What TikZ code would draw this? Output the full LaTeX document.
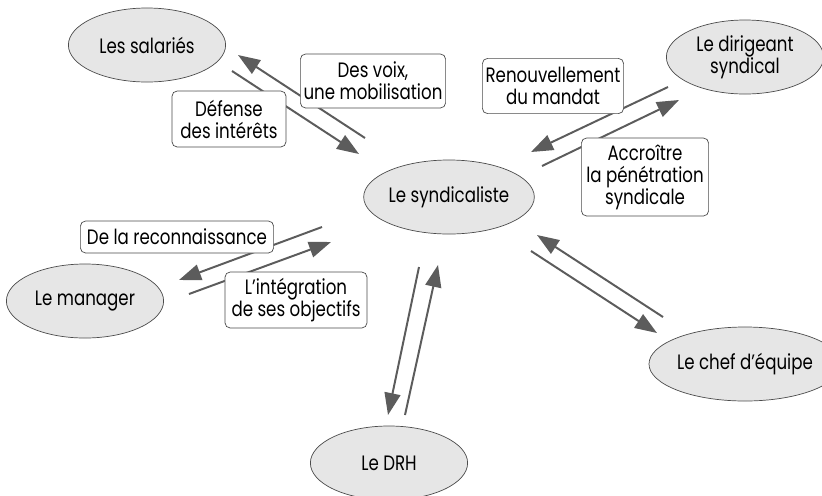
\documentclass[tikz,border=0pt]{standalone}
\usepackage{fontspec}
\setmainfont[FakeStretch=0.8]{Poppins}
\usetikzlibrary{shapes.geometric,arrows.meta}

\definecolor{fondgris}{HTML}{E6E6E6}
\definecolor{traitgris}{HTML}{5C5C5C}

\tikzset{
	acteur/.style={ellipse, draw=black!70, line width=0.5pt, fill=fondgris, minimum width=3.93cm, minimum height=1.85cm, inner sep=0pt, align=center},
	etiquette/.style={rectangle, rounded corners=1.3mm, draw=black!70, line width=0.5pt, fill=white, inner sep=0pt, align=center},
	fleche/.style={draw=traitgris, line width=1.4pt, -{Triangle[length=0.55cm, width=0.4cm]}}
}

\begin{document}
\begin{tikzpicture}[x=0.025cm, y=-0.025cm, font=\fontsize{14.8}{15.6}\selectfont]
		\useasboundingbox (0,0) rectangle (822,495);
		
		\coordinate (voixA) at (365,138);
		\coordinate (voixB) at (238,55);
		\coordinate (defA) at (232,71);
		\coordinate (defB) at (359,154);
		
		\coordinate (renA) at (668,87);
		\coordinate (renB) at (531,152);
		\coordinate (accA) at (542,166);
		\coordinate (accB) at (679,100);
		
		\coordinate (recA) at (322,227);
		\coordinate (recB) at (179,280);
		\coordinate (intA) at (189,294);
		\coordinate (intB) at (331,242);
		
		\coordinate (drhA) at (419,267);
		\coordinate (drhB) at (388,415);
		\coordinate (drhC) at (405,415);
		\coordinate (drhD) at (438,265);
		
		\coordinate (chefA) at (663,317);
		\coordinate (chefB) at (537,235);
		\coordinate (chefC) at (531,251);
		\coordinate (chefD) at (657,333);
		
		\draw [fleche] (voixA) -- (voixB);
		\draw [fleche] (defA) -- (defB);
		\draw [fleche] (renA) -- (renB);
		\draw [fleche] (accA) -- (accB);
		\draw [fleche] (recA) -- (recB);
		\draw [fleche] (intA) -- (intB);
		\draw [fleche] (drhA) -- (drhB);
		\draw [fleche] (drhC) -- (drhD);
		\draw [fleche] (chefA) -- (chefB);
		\draw [fleche] (chefC) -- (chefD);
		
		\node [acteur] (salaries) at (147,45) {Les salariés};
		\node [acteur] (syndicaliste) at (449,197) {Le syndicaliste};
		\node [acteur] (dirigeant) at (745,57) {Le dirigeant\\syndical};
		\node [acteur] (manager) at (85,301) {Le manager};
		\node [acteur] (drh) at (389,463) {Le DRH};
		\node [acteur] (chef) at (745,364) {Le chef d’équipe};
		
		\node [etiquette, minimum width=3.63cm, minimum height=1.35cm] (voix) at (373,81) {Des voix,\\une mobilisation};
		\node [etiquette, minimum width=2.85cm, minimum height=1.4cm] (defense) at (229,119) {Défense\\des intérêts};
		\node [etiquette, minimum width=3.53cm, minimum height=1.38cm] (renouv) at (553,86) {Renouvellement\\du mandat};
		\node [etiquette, minimum width=3.18cm, minimum height=1.95cm] (accroitre) at (645,177) {Accroître\\la pénétration\\syndicale};
		\node [etiquette, minimum width=4.83cm, minimum height=0.8cm] (reconn) at (177,237) {De la reconnaissance};
		\node [etiquette, minimum width=3.55cm, minimum height=1.4cm] (integr) at (296,300) {L’intégration\\de ses objectifs};
		
\end{tikzpicture}
\end{document}
